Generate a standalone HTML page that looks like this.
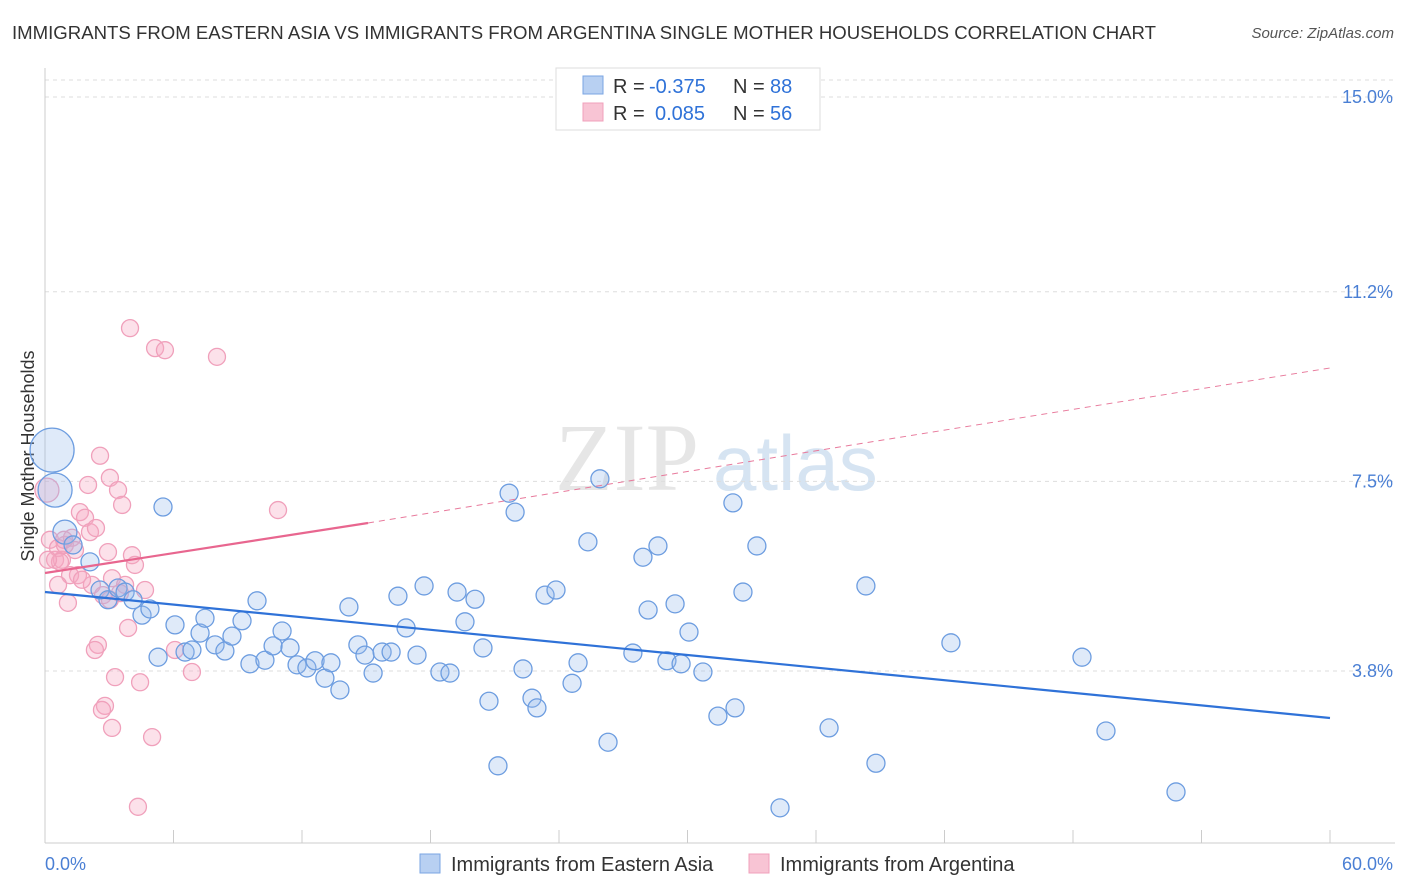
<!DOCTYPE html>
<html><head><meta charset="utf-8">
<style>
body{margin:0;background:#fff;font-family:"Liberation Sans",sans-serif;}
#c{position:relative;width:1406px;height:892px;overflow:hidden}
.t{position:absolute;white-space:nowrap}
</style></head>
<body>
<div id="c">
<div class="t" style="left:12px;top:22px;font-size:18.6px;color:#333">IMMIGRANTS FROM EASTERN ASIA VS IMMIGRANTS FROM ARGENTINA SINGLE MOTHER HOUSEHOLDS CORRELATION CHART</div>
<div class="t" style="right:12px;top:25px;font-size:15px;color:#555;font-style:italic">Source: ZipAtlas.com</div>
<svg id="s" width="1406" height="892" style="position:absolute;left:0;top:0"></svg>
</div>
<script>
const yTicks=[15.0,11.2,7.5,3.8];
const yTickLabels=["15.0%","11.2%","7.5%","3.8%"];
const blueX=[0.33,0.47,0.93,1.31,2.10,2.57,2.94,3.41,3.74,4.11,4.53,4.90,5.51,5.28,6.07,6.54,6.86,7.24,7.47,7.94,8.40,8.73,9.20,9.57,9.90,10.27,10.65,11.07,11.44,11.77,12.23,12.61,13.07,13.35,13.77,14.19,14.61,14.94,15.32,15.74,16.16,16.48,16.86,17.37,17.70,18.44,18.91,19.24,19.61,20.08,20.45,20.73,21.15,21.67,21.95,22.32,22.74,22.97,23.35,23.86,24.61,24.89,25.35,25.91,26.29,27.45,27.92,28.16,28.62,29.04,29.42,29.70,30.07,30.72,31.42,32.12,32.22,32.59,33.24,34.32,36.61,38.33,38.80,42.30,48.42,49.54,52.81];
const blueY=[8.11,7.33,6.51,6.26,5.93,5.38,5.19,5.42,5.34,5.19,4.89,5.01,7.00,4.07,4.70,4.17,4.21,4.54,4.83,4.31,4.19,4.48,4.78,3.94,5.17,4.01,4.29,4.58,4.25,3.92,3.86,4.00,3.66,3.96,3.43,5.05,4.31,4.11,3.76,4.17,4.17,5.26,4.64,4.11,5.46,3.78,3.76,5.34,4.76,5.20,4.25,3.21,1.95,7.27,6.90,3.84,3.27,3.08,5.28,5.38,3.56,3.96,6.32,7.55,2.41,4.15,6.02,4.99,6.24,4.00,5.11,3.94,4.56,3.78,2.92,7.08,3.08,5.34,6.24,1.13,2.69,5.46,2.00,4.35,4.07,2.63,1.44];
const blueR=[22,17,12,9,9,9,9,9,9,9,9,9,9,9,9,9,9,9,9,9,9,9,9,9,9,9,9,9,9,9,9,9,9,9,9,9,9,9,9,9,9,9,9,9,9,9,9,9,9,9,9,9,9,9,9,9,9,9,9,9,9,9,9,9,9,9,9,9,9,9,9,9,9,9,9,9,9,9,9,9,9,9,9,9,9,9,9];
const pinkX=[0.09,0.23,0.47,0.61,0.79,0.93,1.07,1.26,1.40,1.54,1.63,1.87,2.01,2.10,2.19,2.38,2.47,2.57,2.71,2.80,2.94,3.03,3.13,3.27,3.41,3.60,3.74,3.88,3.97,4.06,4.20,4.44,4.67,5.00,5.14,5.60,6.07,6.86,8.03,10.88,4.34,0.70,1.17,1.73,2.66,3.13,3.50,2.33,0.14,0.61,0.89,3.03];
const pinkY=[7.33,6.36,5.97,6.20,5.97,6.26,5.13,6.40,6.16,5.67,6.90,6.79,7.43,6.51,5.48,6.59,4.31,8.00,5.28,3.12,6.12,7.57,5.61,3.68,7.33,7.04,5.48,4.64,10.49,6.06,5.87,3.58,5.38,2.51,10.10,10.06,4.21,3.78,9.93,6.94,1.15,5.93,5.67,5.58,3.04,2.69,5.32,4.21,5.97,5.48,6.36,5.19];
const X0=45,X1=1330,YB=843;
const x=v=>X0+v*(X1-X0)/60;
const y=v=>97+(15-v)*51.25;
const s=document.getElementById('s');
const NS='http://www.w3.org/2000/svg';
function mk(t,a,p){const e=document.createElementNS(NS,t);for(const k in a)e.setAttribute(k,a[k]);(p||s).appendChild(e);return e;}
let wm=mk('text',{x:555,y:490,'font-size':96,'font-family':'Liberation Serif,serif',fill:'#e6e6e6'});wm.textContent='ZIP';


let wm2=mk('text',{x:713,y:490,'font-size':78,'font-family':'Liberation Sans,sans-serif',fill:'#d6e4f2'});wm2.textContent='atlas';


mk('line',{x1:X0,x2:1395,y1:80,y2:80,stroke:'#ddd','stroke-dasharray':'4,4'});
yTicks.forEach((v,i)=>{
 const g=mk('line',{x1:X0,x2:1395,y1:y(v),y2:y(v),stroke:'#ddd','stroke-dasharray':'4,4'});
 
 
 const t=mk('text',{x:1393,y:y(v)+6,'text-anchor':'end','font-size':18,fill:'#4a7fd4'});t.textContent=yTickLabels[i];
 
 
});
mk('line',{x1:X0,x2:X0,y1:68,y2:YB,stroke:'#ccc'});
mk('line',{x1:X0,x2:1395,y1:YB,y2:YB,stroke:'#ccc'});
for(let i=0;i<=10;i++){mk('line',{x1:x(i*6),x2:x(i*6),y1:830,y2:YB,stroke:'#ccc'});}
let xl=mk('text',{x:45,y:870,'font-size':18,fill:'#4a7fd4'});xl.textContent='0.0%';


let xr=mk('text',{x:1393,y:870,'text-anchor':'end','font-size':18,fill:'#4a7fd4'});xr.textContent='60.0%';


let yt=mk('text',{x:34,y:456,'font-size':18,fill:'#333','text-anchor':'middle',transform:'rotate(-90 34 456)'});yt.textContent='Single Mother Households';


pinkX.forEach((v,i)=>{const c=mk('circle',{cx:x(v),cy:y(pinkY[i]),r:i===0?12:8.5,fill:'rgba(246,170,196,0.35)',stroke:'#f0a0bb','stroke-width':1.3});
 
 });
blueX.forEach((v,i)=>{const c=mk('circle',{cx:x(v),cy:y(blueY[i]),r:blueR[i]||9,fill:'rgba(150,185,235,0.3)',stroke:'#6d9de0','stroke-width':1.3});
 
 });
let bl=mk('line',{x1:x(0),y1:592,x2:x(60),y2:718,stroke:'#2f72d8','stroke-width':2.2});


let pd=mk('line',{x1:368,y1:523,x2:1330,y2:368,stroke:'#e87a9c','stroke-width':1,'stroke-dasharray':'6,5'});


let ps=mk('line',{x1:45,y1:573,x2:368,y2:523,stroke:'#e8668f','stroke-width':2.2});


let lb=mk('rect',{x:556,y:68,width:264,height:62,fill:'#fff',stroke:'#ddd'});


mk('rect',{x:583,y:76,width:20,height:18,fill:'#b8d0f2',stroke:'#7aa5e3'});
mk('rect',{x:583,y:103,width:20,height:18,fill:'#f8c4d4',stroke:'#f0a0bb'});
function tx(x0,y0,str,col,name){const t=mk('text',{x:x0,y:y0,'font-size':20,fill:col});t.textContent=str;
 
 }
tx(613,93,'R =','#333','legend-r-label');tx(649,93,'-0.375','#2f72d8','legend-r-blue');tx(733,93,'N =','#333','legend-n-label');tx(770,93,'88','#2f72d8','legend-n-blue');
tx(613,120,'R =','#333','legend-r-label');tx(655,120,'0.085','#2f72d8','legend-r-pink');tx(733,120,'N =','#333','legend-n-label');tx(770,120,'56','#2f72d8','legend-n-pink');
let b1=mk('rect',{x:420,y:854,width:20,height:19,fill:'#b8d0f2',stroke:'#7aa5e3'});


tx(451,871,'Immigrants from Eastern Asia','#333','legend-entry-eastern-asia');
let b2=mk('rect',{x:749,y:854,width:20,height:19,fill:'#f8c4d4',stroke:'#f0a0bb'});


tx(780,871,'Immigrants from Argentina','#333','legend-entry-argentina');
</script>
</body></html>
